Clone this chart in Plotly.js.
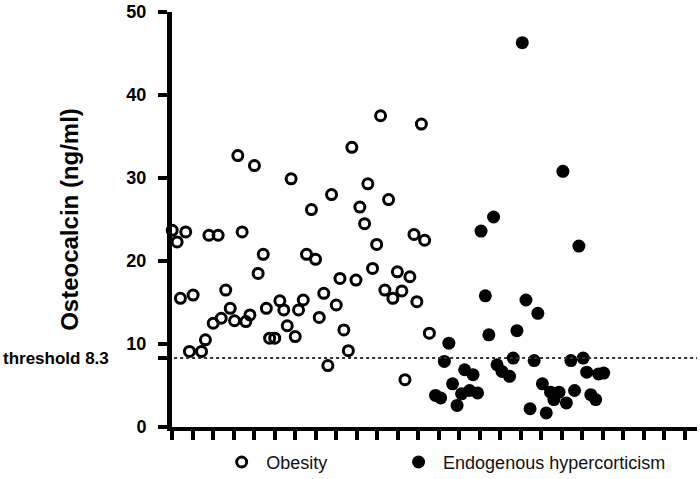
<!DOCTYPE html>
<html><head><meta charset="utf-8">
<script src="https://cdn.plot.ly/plotly-3.0.1.min.js"></script>
<style>html,body{margin:0;padding:0;background:#fff}#chart{width:700px;height:479px}</style>
</head><body><div id="chart"></div>
<script>
// Obesity group (open circles): jittered x position (tick units), osteocalcin (ng/ml)
const obesityX = [0.01,0.25,0.67,0.41,1.03,0.85,1.44,1.63,1.80,2.25,2.01,2.40,2.62,2.84,3.05,3.21,3.42,3.60,3.80,4.02,
  4.20,4.45,4.60,4.76,5.01,5.26,5.45,5.62,5.81,6.01,6.17,6.40,6.56,6.80,7.00,7.18,7.40,7.60,7.78,8.01,
  8.19,8.38,8.60,8.77,8.97,9.16,9.39,9.55,9.78,9.98,10.17,10.38,10.56,10.77,10.99,11.21,11.36,11.60,11.80,11.94,
  12.16,12.32,12.55];
const obesityY = [23.7,22.3,23.5,15.5,15.9,9.1,9.1,10.5,23.1,23.1,12.5,13.1,16.5,14.3,12.8,32.7,23.5,12.7,13.5,31.5,
  18.5,20.8,14.3,10.7,10.7,15.2,14.1,12.2,29.9,10.9,14.1,15.3,20.8,26.2,20.2,13.2,16.1,7.4,28.0,14.7,
  17.9,11.7,9.2,33.7,17.7,26.5,24.5,29.3,19.1,22.0,37.5,16.5,27.4,15.5,18.7,16.4,5.7,18.1,23.2,15.1,
  36.5,22.5,11.3];
// Endogenous hypercorticism group (filled circles)
const hyperX = [17.08,19.06,15.68,15.07,19.84,15.28,17.26,17.84,16.82,15.45,13.50,13.28,16.64,17.66,19.45,20.05,
  14.27,14.68,15.85,16.09,16.46,20.22,20.80,21.05,13.68,12.85,13.10,13.90,14.12,14.51,14.90,18.06,
  18.46,18.87,18.62,19.23,19.63,20.42,20.66,17.46,18.25];
const hyperY = [46.3,30.8,25.3,23.6,21.8,15.8,15.3,13.7,11.6,11.1,10.1,7.9,8.3,8.0,8.0,8.3,
  6.9,6.3,7.5,6.7,6.1,6.6,6.4,6.5,5.2,3.8,3.5,2.6,4.0,4.4,4.1,5.2,
  4.2,4.2,3.3,2.9,4.4,3.9,3.3,2.2,1.7];
const seriesNames = ['Obesity', 'Endogenous hypercorticism'];
const threshold = 8.3;
const thresholdLabel = 'threshold 8.3';
const yTickVals = [0, 8.3, 10, 20, 30, 40, 50];
const yTickText = ['0', '', '10', '20', '30', '40', '50'];
const xTickVals = [0,1,2,3,4,5,6,7,8,9,10,11,12,13,14,15,16,17,18,19,20,21,22,23,24,25];
const yTitle = 'Osteocalcin (ng/ml)';

const FONT = 'Liberation Sans, Arial, sans-serif';
const traces = [
  {type:'scatter', mode:'markers', x:obesityX, y:obesityY, name:seriesNames[0], legend:'legend',
   cliponaxis:false,
   marker:{symbol:'circle-open', size:10, color:'#000', line:{width:3, color:'#000'}}},
  {type:'scatter', mode:'markers', x:hyperX, y:hyperY, name:seriesNames[1], legend:'legend2',
   cliponaxis:false,
   marker:{symbol:'circle', size:13, color:'#000'}}
];

const layout = {
  width:700, height:479,
  margin:{l:172, r:3, t:12, b:52, autoexpand:false},
  paper_bgcolor:'#fff', plot_bgcolor:'#fff',
  font:{family:FONT, color:'#000'},
  xaxis:{range:[0,25.6], showgrid:false, zeroline:false, showline:true, linewidth:4, linecolor:'#000',
    ticks:'outside', tickvals:xTickVals, ticklen:9, tickwidth:4, tickcolor:'#000', showticklabels:false},
  yaxis:{range:[0,50], showgrid:false, zeroline:false, showline:true, linewidth:5, linecolor:'#000',
    ticks:'outside', tickvals:yTickVals, ticktext:yTickText, ticklen:9, tickwidth:4, tickcolor:'#000',
    ticklabelstandoff:8,
    tickfont:{family:FONT, size:18, weight:'bold', color:'#000'},
    title:{text:yTitle, standoff:42, font:{family:FONT, size:24, weight:'bold', color:'#000'}}},
  shapes:[{type:'line', xref:'paper', x0:0.004, x1:1, yref:'y', y0:threshold, y1:threshold,
    line:{color:'#333', width:2, dash:'dot'}}],
  annotations:[{text:thresholdLabel, xref:'paper', x:-0.325, xanchor:'left', yref:'y', y:threshold, yanchor:'middle',
    showarrow:false, font:{family:FONT, size:17, weight:'bold', color:'#000'}}],
  legend:{orientation:'h', x:0.086, xanchor:'left', y:-0.085, yanchor:'middle', bgcolor:'rgba(0,0,0,0)',
    itemwidth:39, font:{family:FONT, size:18, color:'#111'}},
  legend2:{orientation:'h', x:0.423, xanchor:'left', y:-0.085, yanchor:'middle', bgcolor:'rgba(0,0,0,0)',
    itemwidth:39, font:{family:FONT, size:18, color:'#111'}},
  showlegend:true
};

Plotly.newPlot('chart', traces, layout, {displayModeBar:false, staticPlot:true});
</script>
</body></html>
